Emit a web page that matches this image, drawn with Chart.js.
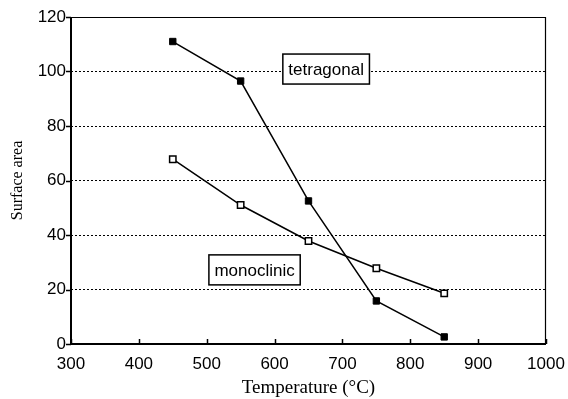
<!DOCTYPE html>
<html>
<head>
<meta charset="utf-8">
<script src="https://cdn.jsdelivr.net/npm/chart.js@4/dist/chart.umd.min.js"></script>
<style>
  html, body { margin: 0; padding: 0; background: #fff; }
  #wrap { width: 568px; height: 399px; }
</style>
</head>
<body>
<div id="wrap"><canvas id="chart" width="568" height="399"></canvas></div>
<script>
// Surface area vs. calcination temperature
const temperatures = [450, 550, 650, 750, 850];
const tetragonal = [111, 96.5, 52.5, 15.8, 2.6];
const monoclinic = [67.8, 51, 37.8, 27.8, 18.6];
const xTicks = [300, 400, 500, 600, 700, 800, 900, 1000];
const yTicks = [0, 20, 40, 60, 80, 100, 120];

// boxed series names, anchored at their centre in data units
const labels = [
    { text: 'tetragonal', x: 676, y: 100.9 },
    { text: 'monoclinic', x: 570.5, y: 27.2 }
];

const tickFont = { family: '"Liberation Sans", Arial, sans-serif', size: 17 };
const titleFont = '"Liberation Serif", "Times New Roman", serif';

const toPoints = (xs, ys) => xs.map((x, i) => ({ x: x, y: ys[i] }));

// frame, tick marks and boxed labels
const decorations = {
    id: 'decorations',
    afterDatasetsDraw(chart) {
        const ctx = chart.ctx;
        const a = chart.chartArea;
        const xs = chart.scales.x, ys = chart.scales.y;
        ctx.save();
        ctx.strokeStyle = '#000';
        ctx.setLineDash([]);

        // top and right edges
        ctx.lineWidth = 1.2;
        ctx.beginPath();
        ctx.moveTo(a.left, a.top + 0.5);
        ctx.lineTo(a.right - 0.5, a.top + 0.5);
        ctx.lineTo(a.right - 0.5, a.bottom);
        ctx.stroke();

        // left and bottom axes
        ctx.lineWidth = 2;
        ctx.beginPath();
        ctx.moveTo(a.left, a.top);
        ctx.lineTo(a.left, a.bottom);
        ctx.lineTo(a.right, a.bottom);
        ctx.stroke();

        // y ticks point outward, x ticks point inward
        ctx.lineWidth = 1.5;
        ctx.beginPath();
        yTicks.forEach(v => {
            const py = Math.round(ys.getPixelForValue(v)) + 0.5;
            ctx.moveTo(a.left - 5, py);
            ctx.lineTo(a.left, py);
        });
        xTicks.forEach(v => {
            const px = Math.round(xs.getPixelForValue(v)) + 0.5;
            ctx.moveTo(px, a.bottom);
            ctx.lineTo(px, a.bottom - 5);
        });
        ctx.stroke();

        ctx.font = '17px "Liberation Sans", Arial, sans-serif';
        ctx.textAlign = 'center';
        ctx.textBaseline = 'middle';
        labels.forEach(l => {
            const cx = xs.getPixelForValue(l.x);
            const cy = ys.getPixelForValue(l.y);
            const w = ctx.measureText(l.text).width + 11;
            const h = 30;
            ctx.fillStyle = '#fff';
            ctx.fillRect(cx - w / 2, cy - h / 2, w, h);
            ctx.lineWidth = 1.5;
            ctx.strokeRect(cx - w / 2, cy - h / 2, w, h);
            ctx.fillStyle = '#000';
            ctx.fillText(l.text, cx, cy + 1);
        });
        ctx.restore();
    }
};

new Chart(document.getElementById('chart'), {
    type: 'scatter',
    data: {
        datasets: [{
            label: 'tetragonal',
            data: toPoints(temperatures, tetragonal),
            showLine: true,
            borderColor: '#000',
            borderWidth: 1.5,
            pointStyle: 'rect',
            pointRadius: 4.5,
            pointBackgroundColor: '#000',
            pointBorderColor: '#000',
            pointBorderWidth: 1
        }, {
            label: 'monoclinic',
            data: toPoints(temperatures, monoclinic),
            showLine: true,
            borderColor: '#000',
            borderWidth: 1.5,
            pointStyle: 'rect',
            pointRadius: 4.5,
            pointBackgroundColor: '#fff',
            pointBorderColor: '#000',
            pointBorderWidth: 1.5
        }]
    },
    options: {
        responsive: false,
        animation: false,
        layout: { padding: { top: 17, right: 0, left: 8, bottom: 0 } },
        plugins: {
            legend: { display: false },
            tooltip: { enabled: false }
        },
        scales: {
            x: {
                type: 'linear',
                min: 300,
                max: 1000,
                afterBuildTicks: s => { s.ticks = xTicks.map(v => ({ value: v })); },
                afterFit: s => {
                    s.height = 55;
                    s.paddingLeft = 0;
                    s.paddingRight = 22;
                },
                border: { display: false },
                grid: { display: false, drawTicks: false },
                ticks: {
                    color: '#000',
                    padding: 10,
                    maxRotation: 0,
                    font: tickFont,
                    callback: v => String(v)
                },
                title: {
                    display: true,
                    text: 'Temperature (°C)',
                    color: '#000',
                    padding: { top: 1, bottom: 0 },
                    font: { family: titleFont, size: 19 }
                }
            },
            y: {
                type: 'linear',
                min: 0,
                max: 120,
                afterBuildTicks: s => { s.ticks = yTicks.map(v => ({ value: v })); },
                afterFit: s => { s.width = 63; },
                border: { display: false, dash: [2, 2] },
                grid: {
                    drawTicks: false,
                    color: c => (c.tick.value > 0 && c.tick.value < 120) ? '#000' : 'rgba(0,0,0,0)',
                    lineWidth: 1
                },
                ticks: {
                    color: '#000',
                    padding: 5,
                    font: tickFont,
                    callback: v => String(v)
                },
                title: {
                    display: true,
                    text: 'Surface area',
                    color: '#000',
                    padding: { top: 0, bottom: 8 },
                    font: { family: titleFont, size: 16 }
                }
            }
        }
    },
    plugins: [decorations]
});
</script>
</body>
</html>
